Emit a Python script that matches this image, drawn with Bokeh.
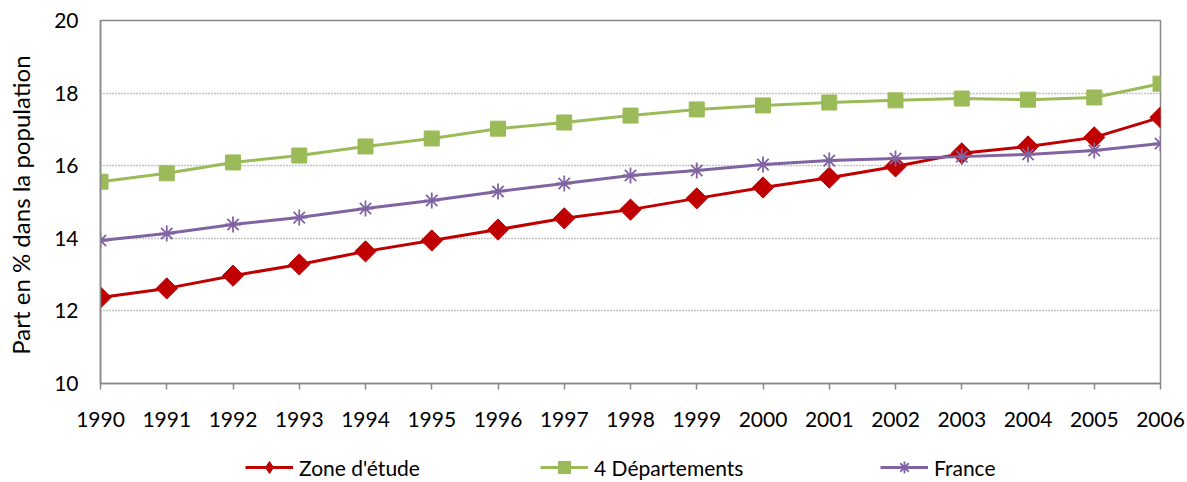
import math
from bokeh.plotting import figure
from bokeh.models import Legend, LegendItem, FixedTicker, Range1d
from bokeh.layouts import column
from bokeh.embed import file_html
from bokeh.resources import INLINE

years = list(range(1990, 2007))
zone = [12.37, 12.62, 12.97, 13.28, 13.64, 13.94, 14.24, 14.55, 14.79, 15.10,
        15.40, 15.67, 15.98, 16.34, 16.53, 16.78, 17.33]
depts = [15.56, 15.79, 16.09, 16.28, 16.53, 16.75, 17.02, 17.19, 17.38, 17.55,
         17.66, 17.74, 17.80, 17.85, 17.82, 17.88, 18.26]
france = [13.94, 14.13, 14.38, 14.57, 14.82, 15.04, 15.29, 15.51, 15.73, 15.87,
          16.03, 16.14, 16.20, 16.25, 16.31, 16.42, 16.61]
y_ticks = [10, 12, 14, 16, 18, 20]
labels = ["Zone d'étude", "4 Départements", "France"]

FONT = "Lato"
FS = "21px"
red, green, purple = "#C00000", "#9BBB59", "#8064A2"

p = figure(width=1187, height=438, output_backend="svg", toolbar_location=None,
           x_range=Range1d(1990, 2006), y_range=Range1d(10, 20),
           min_border_left=100, min_border_right=27, min_border_top=20, min_border_bottom=55)

p.outline_line_color = "#888888"
p.outline_line_width = 1.5

p.xgrid.grid_line_color = None
p.ygrid.ticker = FixedTicker(ticks=[12, 14, 16, 18])
p.ygrid.grid_line_color = "#888888"
p.ygrid.grid_line_dash = "1 2"
p.ygrid.grid_line_width = 1.5

p.xaxis.ticker = FixedTicker(ticks=years)
p.yaxis.ticker = FixedTicker(ticks=y_ticks)
for ax in (p.xaxis[0], p.yaxis[0]):
    ax.axis_line_color = "#888888"
    ax.axis_line_width = 1.5
    ax.major_tick_line_color = "#888888"
    ax.major_tick_line_width = 1.5
    ax.minor_tick_line_color = None
    ax.major_label_text_font = FONT
    ax.major_label_text_font_size = FS
    ax.major_label_text_color = "#000000"
p.xaxis.major_tick_out = 6
p.xaxis.major_tick_in = 0
p.xaxis.major_label_standoff = 22
p.yaxis.major_tick_out = 0
p.yaxis.major_tick_in = 0
p.yaxis.major_label_standoff = 22

p.yaxis.axis_label = "Part en % dans  la population"
p.yaxis.axis_label_text_font = FONT
p.yaxis.axis_label_text_font_size = "24px"
p.yaxis.axis_label_text_font_style = "normal"
p.yaxis.axis_label_text_color = "#000000"
p.yaxis.axis_label_standoff = 16

series = [zone, depts, france]
styles = [
    dict(marker="square", angle=math.pi / 4, size=15, fill_color=red, line_color=red),
    dict(marker="square", size=15, fill_color=green, line_color=green),
    dict(marker="asterisk", size=16, line_color=purple, line_width=1.8),
]
legend_styles = [
    dict(marker="diamond", size=15, fill_color=red, line_color=red),
    dict(marker="square", size=15, fill_color=green, line_color=green),
    dict(marker="asterisk", size=16, line_color=purple, line_width=1.8),
]
colors = [red, green, purple]

for ys, col, kw in zip(series, colors, styles):
    p.line(years, ys, line_color=col, line_width=3)
    p.scatter(years, ys, **kw)

# Legend strip below the chart (its own renderers fall outside its visible range)
q = figure(width=1187, height=44, output_backend="svg", toolbar_location=None,
           x_range=Range1d(1990, 2006), y_range=Range1d(0, 1),
           x_axis_type=None, y_axis_type=None,
           min_border_left=100, min_border_right=27, min_border_top=0, min_border_bottom=0)
q.outline_line_color = None
q.xgrid.visible = False
q.ygrid.visible = False

x_positions = [145, 440, 780]
for label, ys, col, kw, xpos in zip(labels, series, colors, legend_styles, x_positions):
    lr = q.line(years, ys, line_color=col, line_width=3)
    mr = q.scatter(years, ys, **kw)
    lg = Legend(items=[LegendItem(label=label, renderers=[lr, mr])],
                location=(xpos, 0), orientation="horizontal")
    lg.label_text_font = FONT
    lg.label_text_font_size = FS
    lg.label_text_color = "#000000"
    lg.border_line_color = None
    lg.background_fill_alpha = 0
    lg.glyph_width = 48
    lg.glyph_height = 30
    lg.label_standoff = 6
    lg.padding = 0
    lg.margin = 0
    q.add_layout(lg, "center")

layout = column(p, q, spacing=0)
open("out.html", "w").write(file_html(layout, INLINE))
